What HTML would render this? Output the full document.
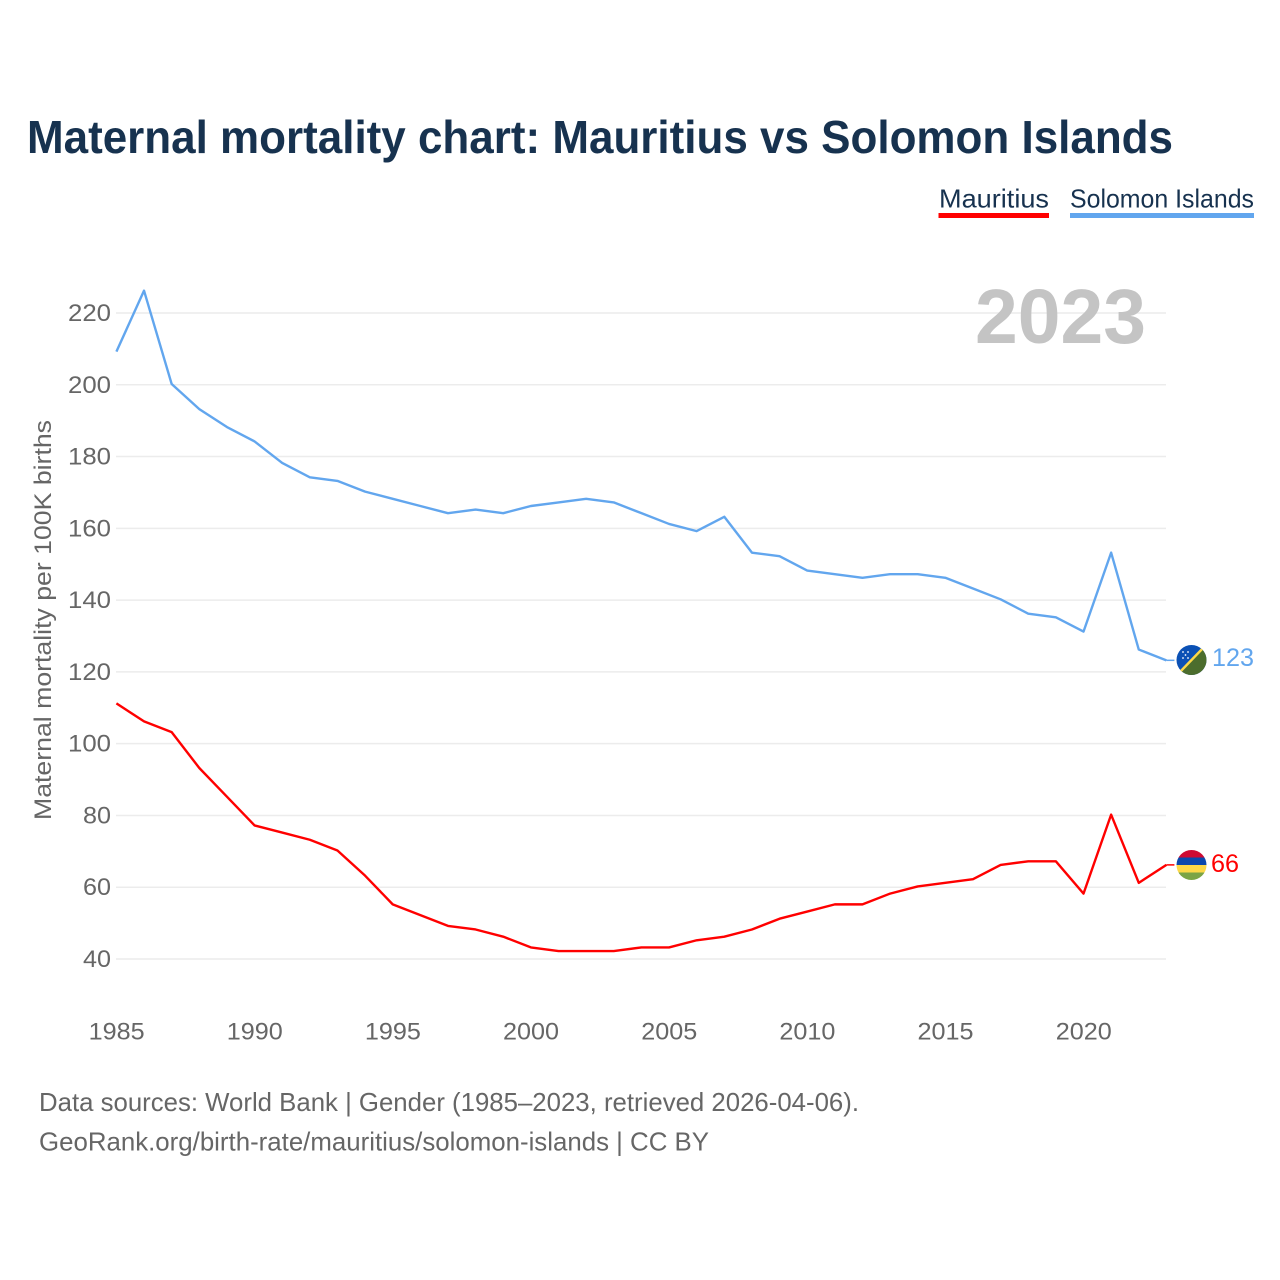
<!DOCTYPE html>
<html lang="en">
<head>
<meta charset="utf-8">
<title>Maternal mortality chart: Mauritius vs Solomon Islands</title>
<style>
html,body{margin:0;padding:0;background:#fff;width:1280px;height:1280px;overflow:hidden}
svg{display:block}
text{font-family:"Liberation Sans",sans-serif}
</style>
</head>
<body>
<svg id="chart" xmlns="http://www.w3.org/2000/svg" width="1280" height="1280" viewBox="0 0 1280 1280">
  <defs>
    <clipPath id="clip-si"><circle cx="1191.5" cy="660" r="15"/></clipPath>
    <clipPath id="clip-mu"><circle cx="1191.5" cy="865" r="15"/></clipPath>
  </defs>
  <rect x="0" y="0" width="1280" height="1280" fill="#ffffff"/>
  <text x="27" y="153" font-size="46" font-weight="700" fill="#17324f" textLength="1146" lengthAdjust="spacingAndGlyphs">Maternal mortality chart: Mauritius vs Solomon Islands</text>

  <g>
    <g>
      <text x="939" y="207.5" font-size="26" fill="#17324f" textLength="110" lengthAdjust="spacingAndGlyphs">Mauritius</text>
      <rect x="938.5" y="213" width="110.5" height="5" fill="#ff0000"/>
    </g>
    <g>
      <text x="1070" y="207.5" font-size="26" fill="#17324f" textLength="184" lengthAdjust="spacingAndGlyphs">Solomon Islands</text>
      <rect x="1070" y="213" width="184" height="5" fill="#62a6ee"/>
    </g>
  </g>

  <g id="grid"></g>
  <g id="yticks"></g>
  <g id="xticks"></g>

  <text transform="translate(51,820) rotate(-90)" x="0" y="0" font-size="24" fill="#666666" textLength="400" lengthAdjust="spacingAndGlyphs">Maternal mortality per 100K births</text>
  <text x="975" y="343" font-size="77" font-weight="700" fill="#c4c4c4" textLength="171" lengthAdjust="spacingAndGlyphs">2023</text>

  <g id="series" transform="translate(0.4,-0.8)"></g>

  <g clip-path="url(#clip-si)">
    <rect x="1176" y="644" width="31" height="32" fill="#0b51b5"/>
    <polygon points="1207,644 1207,676 1176,676" fill="#4c6d2d"/>
    <line x1="1178" y1="674" x2="1205" y2="646" stroke="#fcd848" stroke-width="2.4"/>
    <circle cx="1183" cy="652" r="0.9" fill="#fff"/>
    <circle cx="1188" cy="652" r="0.9" fill="#fff"/>
    <circle cx="1185.5" cy="655" r="0.9" fill="#fff"/>
    <circle cx="1183" cy="658" r="0.9" fill="#fff"/>
    <circle cx="1188" cy="658" r="0.9" fill="#fff"/>
  </g>
  <g clip-path="url(#clip-mu)">
    <rect x="1176" y="850" width="31" height="8" fill="#cf0a33"/>
    <rect x="1176" y="857.5" width="31" height="7.5" fill="#0b48ad"/>
    <rect x="1176" y="865" width="31" height="7.5" fill="#fcd848"/>
    <rect x="1176" y="872.5" width="31" height="8" fill="#7ba445"/>
  </g>
  <text x="1212" y="666" font-size="25" fill="#62a6ee" textLength="42" lengthAdjust="spacingAndGlyphs">123</text>
  <text x="1211" y="872" font-size="25" fill="#ff0000" textLength="28" lengthAdjust="spacingAndGlyphs">66</text>

  <text x="39" y="1111" font-size="26" fill="#666666" textLength="820" lengthAdjust="spacingAndGlyphs">Data sources: World Bank | Gender (1985–2023, retrieved 2026-04-06).</text>
  <text x="39" y="1150.5" font-size="26" fill="#666666" textLength="670" lengthAdjust="spacingAndGlyphs">GeoRank.org/birth-rate/mauritius/solomon-islands | CC BY</text>
</svg>
<script>
const years = [1985,1986,1987,1988,1989,1990,1991,1992,1993,1994,1995,1996,1997,1998,1999,2000,2001,2002,2003,2004,2005,2006,2007,2008,2009,2010,2011,2012,2013,2014,2015,2016,2017,2018,2019,2020,2021,2022,2023];
const solomonValues = [209,226,200,193,188,184,178,174,173,170,168,166,164,165,164,166,167,168,167,164,161,159,163,153,152,148,147,146,147,147,146,143,140,136,135,131,153,126,123];
const mauritiusValues = [111,106,103,93,85,77,75,73,70,63,55,52,49,48,46,43,42,42,42,43,43,45,46,48,51,53,55,55,58,60,61,62,66,67,67,58,80,61,66];
const yTicks = [40,60,80,100,120,140,160,180,200,220];
const xTicks = [1985,1990,1995,2000,2005,2010,2015,2020];

const NS = 'http://www.w3.org/2000/svg';
const xScale = function (year) { return 116 + (year - 1985) * (1166 - 116) / (2023 - 1985); };
const yScale = function (value) { return 959 - (value - 40) * (959 - 313) / (220 - 40); };

const gridGroup = document.getElementById('grid');
const yTickGroup = document.getElementById('yticks');
const xTickGroup = document.getElementById('xticks');
const seriesGroup = document.getElementById('series');

yTicks.forEach(function (tick) {
  const line = document.createElementNS(NS, 'line');
  
  
  line.setAttribute('x1', 116);
  line.setAttribute('x2', 1166);
  line.setAttribute('y1', yScale(tick));
  line.setAttribute('y2', yScale(tick));
  line.setAttribute('stroke', '#ececec');
  line.setAttribute('stroke-width', '1.5');
  gridGroup.appendChild(line);

  const label = document.createElementNS(NS, 'text');
  
  
  label.setAttribute('x', 111);
  label.setAttribute('y', yScale(tick) + 8);
  label.setAttribute('text-anchor', 'end');
  label.setAttribute('font-size', '24');
  label.setAttribute('fill', '#666666');
  label.setAttribute('textLength', tick >= 100 ? 43 : 28);
  label.setAttribute('lengthAdjust', 'spacingAndGlyphs');
  label.textContent = tick;
  yTickGroup.appendChild(label);
});

xTicks.forEach(function (tick) {
  const label = document.createElementNS(NS, 'text');
  
  
  label.setAttribute('x', xScale(tick) + 0.6);
  label.setAttribute('y', 1039.5);
  label.setAttribute('text-anchor', 'middle');
  label.setAttribute('font-size', '24');
  label.setAttribute('fill', '#666666');
  label.setAttribute('textLength', 56);
  label.setAttribute('lengthAdjust', 'spacingAndGlyphs');
  label.textContent = tick;
  xTickGroup.appendChild(label);
});

function linePoints(values) {
  return values.map(function (value, i) {
    return xScale(years[i]).toFixed(2) + ',' + yScale(value).toFixed(2);
  }).join(' ');
}

const solomonLine = document.createElementNS(NS, 'polyline');


solomonLine.setAttribute('points', linePoints(solomonValues));
solomonLine.setAttribute('fill', 'none');
solomonLine.setAttribute('stroke', '#62a6ee');
solomonLine.setAttribute('stroke-width', '2.4');
solomonLine.setAttribute('stroke-linejoin', 'round');
seriesGroup.appendChild(solomonLine);

const mauritiusLine = document.createElementNS(NS, 'polyline');


mauritiusLine.setAttribute('points', linePoints(mauritiusValues));
mauritiusLine.setAttribute('fill', 'none');
mauritiusLine.setAttribute('stroke', '#ff0000');
mauritiusLine.setAttribute('stroke-width', '2.4');
mauritiusLine.setAttribute('stroke-linejoin', 'round');
seriesGroup.appendChild(mauritiusLine);

const solomonConnector = document.createElementNS(NS, 'line');


solomonConnector.setAttribute('x1', xScale(2023));
solomonConnector.setAttribute('x2', 1174);
solomonConnector.setAttribute('y1', yScale(solomonValues[solomonValues.length - 1]));
solomonConnector.setAttribute('y2', yScale(solomonValues[solomonValues.length - 1]));
solomonConnector.setAttribute('stroke', '#62a6ee');
solomonConnector.setAttribute('stroke-width', '1.5');
seriesGroup.appendChild(solomonConnector);

const mauritiusConnector = document.createElementNS(NS, 'line');


mauritiusConnector.setAttribute('x1', xScale(2023));
mauritiusConnector.setAttribute('x2', 1174);
mauritiusConnector.setAttribute('y1', yScale(mauritiusValues[mauritiusValues.length - 1]));
mauritiusConnector.setAttribute('y2', yScale(mauritiusValues[mauritiusValues.length - 1]));
mauritiusConnector.setAttribute('stroke', '#ff0000');
mauritiusConnector.setAttribute('stroke-width', '1.5');
seriesGroup.appendChild(mauritiusConnector);
</script>
</body>
</html>
